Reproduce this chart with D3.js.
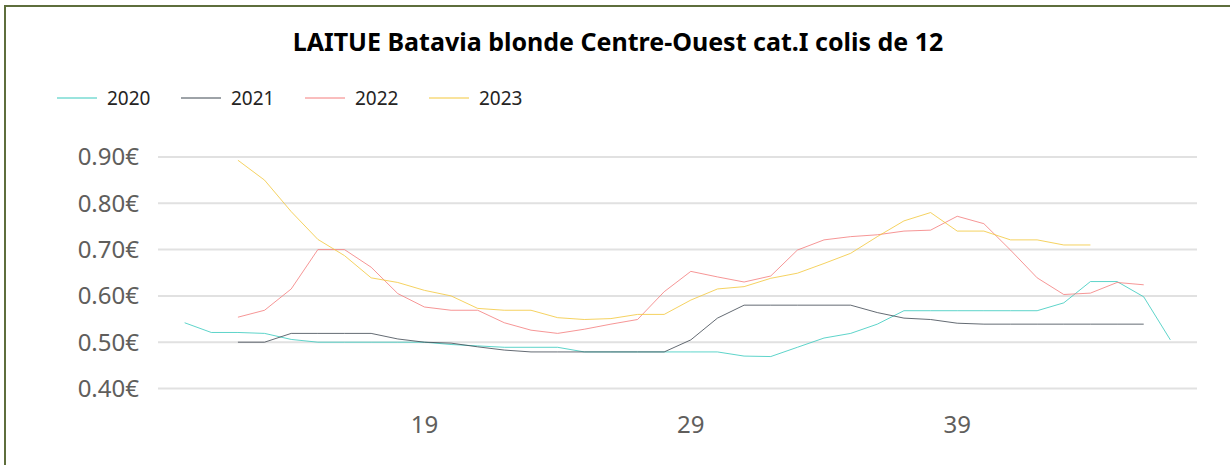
<!DOCTYPE html>
<html>
<head>
<meta charset="utf-8">
<script src="https://cdn.jsdelivr.net/npm/d3@7"></script>
<style>
  body { margin: 0; background: #fff; }
  svg { display: block; font-family: "Noto Sans", "Open Sans", sans-serif; }
</style>
</head>
<body>
<div id="chart"></div>
<script>
// Weeks on the x axis
const weeks = [10, 11, 12, 13, 14, 15, 16, 17, 18, 19, 20, 21, 22, 23, 24, 25, 26, 27, 28, 29,
  30, 31, 32, 33, 34, 35, 36, 37, 38, 39, 40, 41, 42, 43, 44, 45, 46, 47];

// Prices per week (€), null = no quote
const values2020 = [0.542, 0.521, 0.521, 0.519, 0.506, 0.5, 0.5, 0.5, 0.5, 0.5,
  0.495, 0.492, 0.489, 0.489, 0.489, 0.479, 0.479, 0.479, 0.479, 0.479,
  0.479, 0.47, 0.469, 0.489, 0.509, 0.519, 0.539, 0.568, 0.568, 0.568,
  0.568, 0.568, 0.568, 0.585, 0.631, 0.631, 0.598, 0.505];
const values2021 = [null, null, 0.5, 0.5, 0.519, 0.519, 0.519, 0.519, 0.507, 0.5,
  0.498, 0.49, 0.483, 0.479, 0.479, 0.479, 0.479, 0.479, 0.479, 0.505,
  0.552, 0.58, 0.58, 0.58, 0.58, 0.58, 0.564, 0.552, 0.549, 0.541,
  0.539, 0.539, 0.539, 0.539, 0.539, 0.539, 0.539, null];
const values2022 = [null, null, 0.554, 0.569, 0.615, 0.7, 0.7, 0.662, 0.605, 0.576,
  0.569, 0.569, 0.542, 0.526, 0.519, 0.528, 0.539, 0.549, 0.609, 0.653,
  0.641, 0.63, 0.643, 0.699, 0.721, 0.728, 0.732, 0.74, 0.742, 0.772,
  0.756, 0.699, 0.639, 0.603, 0.606, 0.629, 0.624, null];
const values2023 = [null, null, 0.893, 0.85, 0.782, 0.722, 0.687, 0.639, 0.629, 0.612,
  0.6, 0.573, 0.569, 0.569, 0.553, 0.549, 0.551, 0.56, 0.56, 0.591,
  0.615, 0.62, 0.638, 0.649, 0.67, 0.692, 0.728, 0.762, 0.78, 0.74,
  0.74, 0.721, 0.721, 0.71, 0.71, null, null, null];

const seriesNames = ['2020', '2021', '2022', '2023'];
const seriesColors = ['#36c9bd', '#3d4650', '#f47c7c', '#f3c73a'];
const yTicks = [0.4, 0.5, 0.6, 0.7, 0.8, 0.9];
const xTicks = [19, 29, 39];

const series = [values2020, values2021, values2022, values2023].map((vals, i) => ({
  name: seriesNames[i],
  color: seriesColors[i],
  points: weeks.map((w, j) => ({ week: w, value: vals[j] })),
}));

// Constants
const width = 1230;
const height = 465;

const svg = d3
  .select('#chart')
  .append('svg')
  .attr('width', width)
  .attr('height', height);

// Outer frame
svg
  .append('rect')
  .attr('x', 5)
  .attr('y', 6)
  .attr('width', width + 20)
  .attr('height', height + 20)
  .attr('fill', 'none')
  .attr('stroke', '#5e6e3c')
  .attr('stroke-width', 2);

// Title
svg
  .append('text')
  .attr('x', 618)
  .attr('y', 51)
  .attr('text-anchor', 'middle')
  .style('font-size', '25px')
  .style('font-weight', 'bold')
  .style('fill', '#000')
  .text('LAITUE Batavia blonde Centre-Ouest cat.I colis de 12');

// Scales
const x = d3.scaleLinear().domain([9, 48]).range([158, 1197]);
const y = d3.scaleLinear().domain([0.4, 0.9]).range([388.5, 157]);

// Gridlines
svg
  .append('g')
  .selectAll('line')
  .data(yTicks)
  .enter()
  .append('line')
  .attr('x1', x(9))
  .attr('x2', x(48))
  .attr('y1', (d) => y(d))
  .attr('y2', (d) => y(d))
  .attr('stroke', '#e1e1e1')
  .attr('stroke-width', 2);

// Y axis labels
svg
  .append('g')
  .selectAll('text')
  .data(yTicks)
  .enter()
  .append('text')
  .attr('x', 139)
  .attr('y', (d) => y(d))
  .attr('dy', '0.35em')
  .attr('text-anchor', 'end')
  .style('font-size', '24px')
  .style('fill', '#605e5c')
  .text((d) => d3.format('.2f')(d) + '€');

// X axis labels
svg
  .append('g')
  .selectAll('text')
  .data(xTicks)
  .enter()
  .append('text')
  .attr('x', (d) => x(d))
  .attr('y', 425)
  .attr('dy', '0.35em')
  .attr('text-anchor', 'middle')
  .style('font-size', '24px')
  .style('fill', '#605e5c')
  .text((d) => d);

// Lines
const line = d3
  .line()
  .defined((d) => d.value !== null)
  .x((d) => x(d.week))
  .y((d) => y(d.value));

svg
  .append('g')
  .selectAll('path')
  .data(series)
  .enter()
  .append('path')
  .attr('d', (d) => line(d.points))
  .attr('fill', 'none')
  .attr('stroke', (d) => d.color)
  .attr('stroke-opacity', 0.8)
  .attr('stroke-width', 1);

// Legend
const legend = svg
  .append('g')
  .selectAll('g')
  .data(series)
  .enter()
  .append('g')
  .attr('transform', (d, i) => `translate(${57 + i * 124}, 98)`);

legend
  .append('line')
  .attr('x1', 0)
  .attr('x2', 40)
  .attr('stroke', (d) => d.color)
  .attr('stroke-width', 1);

legend
  .append('text')
  .attr('x', 50)
  .attr('dy', '0.35em')
  .style('font-size', '19px')
  .style('fill', '#252423')
  .text((d) => d.name);
</script>
</body>
</html>
